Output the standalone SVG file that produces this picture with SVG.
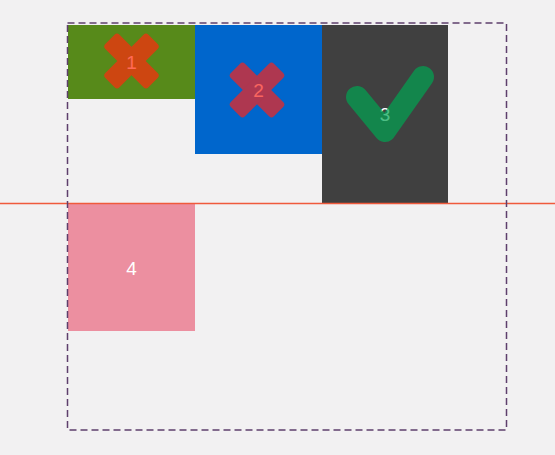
<svg xmlns="http://www.w3.org/2000/svg" width="555" height="455" viewBox="0 0 555 455">
<style>
.lbl{font-family:"Liberation Sans",Arial,sans-serif;font-size:19px;fill:#ffffff;text-anchor:middle;dominant-baseline:central}
.mark{opacity:0.7}
</style>
<defs>
<g id="cross">
<rect x="-30.5" y="-10" width="61" height="20" rx="3.5" transform="rotate(45)"/>
<rect x="-30.5" y="-10" width="61" height="20" rx="3.5" transform="rotate(-45)"/>
</g>
</defs>
<rect width="555" height="455" fill="#f2f1f2"/>
<g id="node1">
<rect x="68" y="25" width="127" height="74" fill="#578a1a"/>
<text class="lbl" x="131.5" y="62">1</text>
<use href="#cross" x="131.5" y="61" fill="#ff2a0e" class="mark"/>
</g>
<g id="node2">
<rect x="195" y="25" width="127" height="129" fill="#0066cc"/>
<text class="lbl" x="258.5" y="90">2</text>
<use href="#cross" x="257" y="90" fill="#f8241c" class="mark"/>
</g>
<g id="node3">
<rect x="322" y="25" width="126" height="178" fill="#404040"/>
<text class="lbl" x="385" y="114">3</text>
<path d="M357,97 L385,131 L423,77" fill="none" stroke="#00a451" stroke-width="22" stroke-linecap="round" stroke-linejoin="round" class="mark"/>
</g>
<g id="node4">
<rect x="68" y="203" width="127" height="128" fill="#ec8fa0"/>
<text class="lbl" x="131.5" y="268">4</text>
</g>
<g id="connectors">
<line x1="0" y1="203.5" x2="555" y2="203.5" stroke="#f05a3c" stroke-width="1.5"/>
<rect x="67.5" y="23" width="439" height="407" fill="none" stroke="#5e3f6c" stroke-width="1.5" stroke-dasharray="7,4"/>
</g>
</svg>
